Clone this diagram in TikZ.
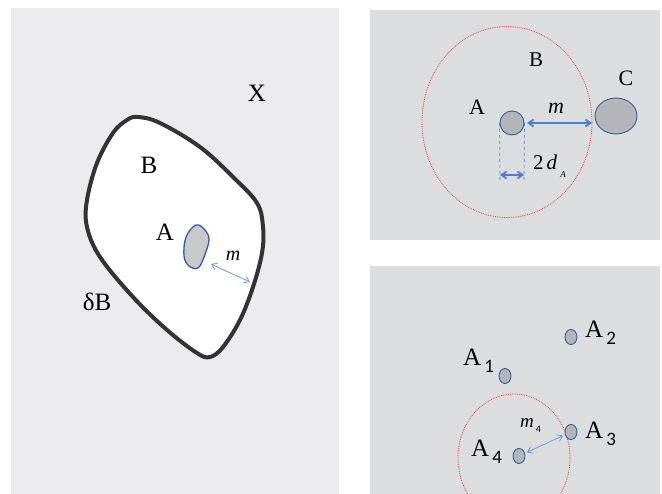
\documentclass[tikz,border=0pt]{standalone}
\usepackage{fontspec}
\setmainfont{Liberation Serif}
\setsansfont{Carlito}
\usetikzlibrary{arrows.meta,shapes.geometric}
\definecolor{bgleft}{HTML}{EBEBED}
\definecolor{bgright}{HTML}{DCDDDF}
\definecolor{blobfill}{HTML}{C8C9CB}
\definecolor{dotfill}{HTML}{B4B5B8}
\definecolor{rim}{HTML}{2F5F9A}
\definecolor{arrowblue}{HTML}{4A80C8}
\definecolor{lightblue}{HTML}{6A9BD8}
\definecolor{reddot}{HTML}{E8383D}
\tikzset{
  lbl/.style={inner sep=0pt,font=\fontsize{25}{28}\selectfont},
  dot/.style={ellipse,draw=rim,fill=dotfill,line width=0.9pt,inner sep=0pt},
  reach/.style={reddot,densely dotted,line width=0.8pt},
  gap/.style={{Straight Barb[length=5pt,width=7pt]}-{Straight Barb[length=5pt,width=7pt]}},
}
\newcommand{\sub}[1]{\hspace{3pt}\raisebox{-7pt}{\fontsize{19}{20}\sffamily #1}}
\begin{document}
\begin{tikzpicture}[x=1pt,y=-1pt]
   \useasboundingbox (0,0) rectangle (662,494);
   %panels
   \fill[bgleft] (11,8) rectangle (339,494);
   \fill[bgright] (370,10) rectangle (660,240);
   \fill[bgright] (370,266) rectangle (660,494);
   %left: set B in X
   \draw[fill=white,draw=black!80,line width=4pt] plot[smooth cycle,tension=0.6] coordinates {
     (138,117) (160,123) (200,147) (233,177) (257,203) (263,227) (262,253)
     (253,287) (240,320) (223,347) (210,357) (197,353) (167,330) (133,297)
     (100,257) (87,227) (87,200) (97,163) (113,133) (127,120)};
   \draw[fill=blobfill,draw=rim,line width=1.3pt] plot[smooth cycle,tension=0.6] coordinates {
     (196,225) (205,230) (209,240) (204,257) (198,268) (189,266) (184,256) (186,237)};
   \node[lbl] (x) at (257,93) {X};
   \node[lbl] (b) at (149,165) {B};
   \node[lbl] (a) at (165,232) {A};
   \node[lbl] (db) at (97,302) {δB};
   \coordinate (mstart) at (211,264);
   \coordinate (mend) at (250,282);
   \draw[gap,lightblue,line width=0.8pt] (mstart) -- (mend);
   \node[lbl,font=\fontsize{20}{22}\selectfont\itshape] (m) at (233,256) {m};
   %top right: ball round A
   \draw[reach] (507,122) ellipse [x radius=85,y radius=95.5];
   \node[dot,minimum width=24pt,minimum height=24pt] (ta) at (512,123) {};
   \node[dot,minimum width=42pt,minimum height=36pt] (tc) at (616,116) {};
   \coordinate (tm1) at (527,123);
   \coordinate (tm2) at (592,123);
   \draw[gap,arrowblue,line width=1.8pt] (tm1) -- (tm2);
   \coordinate (dl) at (500,182);
   \coordinate (dr) at (524,182);
   \draw[arrowblue,dashed,line width=0.7pt] (ta.west) -- (dl);
   \draw[arrowblue,dashed,line width=0.7pt] (ta.east) -- (dr);
   \coordinate (wl) at (500,175);
   \coordinate (wr) at (524,175);
   \draw[gap,arrowblue,line width=1.8pt] (wl) -- (wr);
   \node[lbl,font=\fontsize{22}{24}\selectfont] (tal) at (477,107) {A};
   \node[lbl,font=\fontsize{21}{24}\selectfont] (tbl) at (536,60) {B};
   \node[lbl,font=\fontsize{22}{24}\selectfont] (tcl) at (626,78) {C};
   \node[lbl,font=\fontsize{22}{24}\selectfont\itshape] (tml) at (556,108) {m};
   \node[lbl,font=\fontsize{21}{24}\selectfont,anchor=west] (twl) at (533,166)
     {2\hspace{3pt}\textit{d}\hspace{3pt}\raisebox{-8pt}{\fontsize{9}{10}\selectfont\textit{A}}};
   %bottom right: points A1..A4
   \begin{scope}
     \clip (370,266) rectangle (660,494);
     \draw[reach] (514,458) ellipse [x radius=56,y radius=64];
   \end{scope}
   \node[dot,minimum width=12pt,minimum height=15pt] (a1) at (505,376) {};
   \node[dot,minimum width=12pt,minimum height=15pt] (a2) at (571,337) {};
   \node[dot,minimum width=12pt,minimum height=15pt] (a3) at (571,432) {};
   \node[dot,minimum width=12pt,minimum height=15pt] (a4) at (519,456) {};
   \draw[gap,lightblue,line width=0.8pt,shorten <=2pt,shorten >=2pt] (a4) -- (a3);
   \node[lbl,anchor=west] (a1l) at (463,361) {A\sub{1}};
   \node[lbl,anchor=west] (a2l) at (585,333) {A\sub{2}};
   \node[lbl,anchor=west] (a3l) at (585,434) {A\sub{3}};
   \node[lbl,anchor=west] (a4l) at (471,452) {A\sub{4}};
   \node[lbl,anchor=west,font=\fontsize{19}{22}\selectfont] (m4l) at (520,426)
     {\textit{m}\hspace{2pt}\raisebox{-5pt}{\fontsize{10}{11}\sffamily 4}};
\end{tikzpicture}
\end{document}
